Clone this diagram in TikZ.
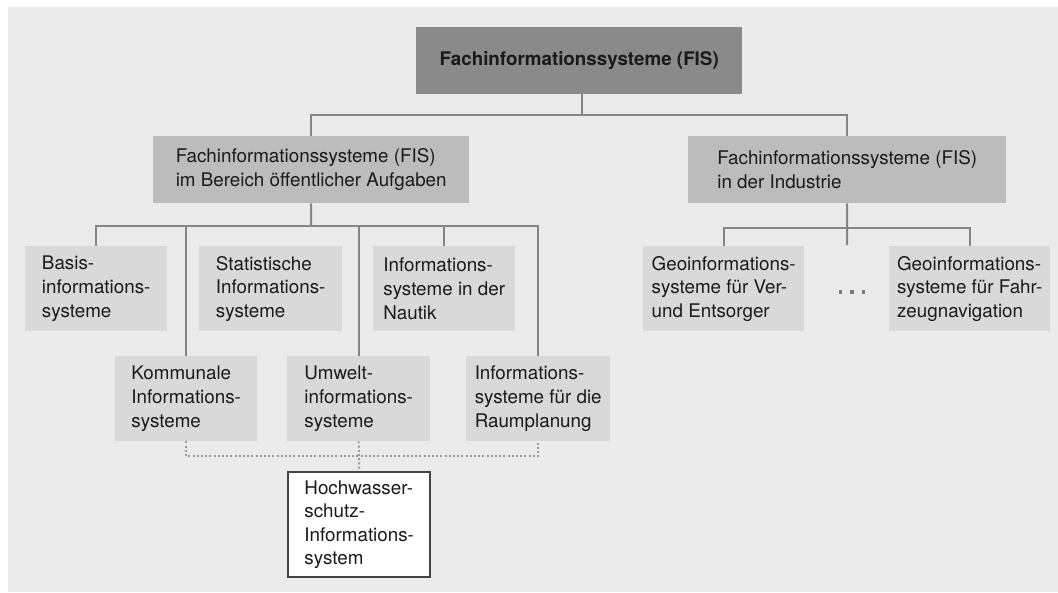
\documentclass[tikz,border=0pt]{standalone}
\usepackage{fontspec}
\setmainfont{TeX Gyre Heros}
\begin{document}
\definecolor{bgback}{HTML}{EBEBEB}
\definecolor{topfill}{HTML}{8A8A8A}
\definecolor{midfill}{HTML}{BCBCBC}
\definecolor{lowfill}{HTML}{D9D9D9}
\definecolor{connline}{HTML}{858585}
\definecolor{dotgray}{HTML}{9A9A9A}
\definecolor{ellipsisgray}{HTML}{7C7C7C}
\definecolor{inktext}{HTML}{1A1A1A}
\definecolor{frameline}{HTML}{444444}
\begin{tikzpicture}[x=1pt,y=-1pt,
  every node/.style={font=\fontsize{18.8}{23.6}\selectfont, text=inktext},
  boxbase/.style={rectangle, anchor=north west, inner sep=0pt, align=left},
  topbox/.style={boxbase, fill=topfill, font=\fontsize{18.8}{23.6}\selectfont\bfseries},
  midbox/.style={boxbase, fill=midfill},
  lowbox/.style={boxbase, fill=lowfill},
  focusbox/.style={boxbase, fill=white, draw=frameline, line width=2.4pt},
  conn/.style={draw=connline, line width=2pt},
  dotconn/.style={draw=dotgray, line width=2pt, dash pattern=on 2pt off 2.2pt},
]
% canvas and grey panel
\useasboundingbox (0,0) rectangle (1058,592);
\fill[white] (0,0) rectangle (1058,592);
\fill[bgback] (8,7) rectangle (1058,592);

% level 1
\node[topbox, minimum width=326pt, minimum height=67pt] (fis) at (416,27)
  {Fachinformationssysteme (FIS)};

% level 2
\node[midbox, minimum width=316pt, minimum height=67pt] (oeff) at (153,136)
  {Fachinformationssysteme (FIS)\\im Bereich öffentlicher Aufgaben};
\node[midbox, minimum width=318pt, minimum height=67pt] (ind) at (688,136)
  {Fachinformationssysteme (FIS)\\in der Industrie};

% level 3, public sector
\node[lowbox, minimum width=142pt, minimum height=85pt] (basis) at (25,246)
  {Basis-\\informations-\\systeme};
\node[lowbox, minimum width=143pt, minimum height=85pt] (stat) at (199,246)
  {Statistische\\Informations-\\systeme};
\node[lowbox, minimum width=142pt, minimum height=85pt] (naut) at (373,246)
  {Informations-\\systeme in der\\Nautik};
\node[lowbox, minimum width=142pt, minimum height=85pt] (komm) at (115,356)
  {Kommunale\\Informations-\\systeme};
\node[lowbox, minimum width=143pt, minimum height=85pt] (umw) at (287,356)
  {Umwelt-\\informations-\\systeme};
\node[lowbox, minimum width=144pt, minimum height=85pt] (raum) at (466,356)
  {Informations-\\systeme für die\\Raumplanung};

% level 3, industry
\node[lowbox, minimum width=161pt, minimum height=85pt] (ver) at (643,246)
  {Geoinformations-\\systeme für Ver-\\und Entsorger};
\node[lowbox, minimum width=161pt, minimum height=85pt] (fahr) at (889,246)
  {Geoinformations-\\systeme für Fahr-\\zeugnavigation};
\node[anchor=center, inner sep=0pt, text=ellipsisgray] (dots) at (852,292)
  {\rule{3.4pt}{3.4pt}\hspace{8pt}\rule{3.4pt}{3.4pt}\hspace{8pt}\rule{3.4pt}{3.4pt}};

% focus system
\node[focusbox, minimum width=142pt, minimum height=105pt] (hoch) at (287,471)
  {Hochwasser-\\schutz-\\Informations-\\system};

% junction points
\coordinate (j1) at (582,115);
\coordinate (j2) at (311,226);
\coordinate (j3) at (847,228);
\coordinate (j3end) at (847,245);
\coordinate (j4) at (358,456);

% tree connectors
\draw[conn] (fis.south -| j1) -- (j1);
\draw[conn] (oeff.north) |- (ind.north |- j1) -- (ind.north);
\draw[conn] (oeff.south) -- (j2);
\draw[conn] (basis.north) |- (raum.north |- j2) -- (raum.north);
\draw[conn] (komm.north) -- (komm.north |- j2);
\draw[conn] (umw.north) -- (umw.north |- j2);
\draw[conn] (naut.north) -- (naut.north |- j2);
\draw[conn] (ind.south) -- (j3end);
\draw[conn] (ver.north) |- (fahr.north |- j3) -- (fahr.north);

% dotted links to the flood protection system
\draw[dotconn] (komm.south) |- (raum.south |- j4) -- (raum.south);
\draw[dotconn] (umw.south) -- (hoch.north);
\end{tikzpicture}
\end{document}
